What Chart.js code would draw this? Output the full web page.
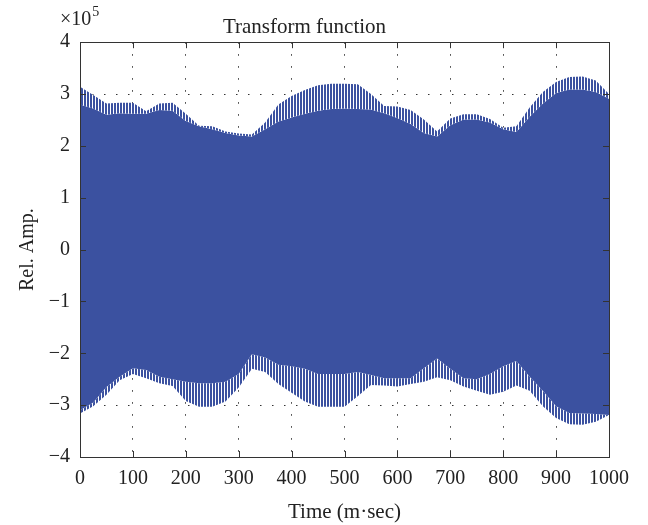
<!DOCTYPE html>
<html>
<head>
<meta charset="utf-8">
<script src="https://cdn.jsdelivr.net/npm/chart.js@4/dist/chart.umd.min.js"></script>
<style>
  html, body { margin: 0; padding: 0; background: #fff; }
  #wrap { width: 648px; height: 525px; }
</style>
</head>
<body>
<div id="wrap"><canvas id="chart" width="648" height="525"></canvas></div>
<script>
// Transform function - envelope of the dense signal
// values in units of 1e5

const times = [0, 25, 50, 75, 100, 125, 150, 175, 200, 225, 250, 275, 300, 325, 350, 375, 400,
  425, 450, 475, 500, 525, 550, 575, 600, 625, 650, 675, 700, 725, 750, 775, 800, 825, 850,
  875, 900, 925, 950, 975, 1000];

// tips of the upper spikes
const upperOuter = [3.14, 2.98, 2.82, 2.83, 2.83, 2.67, 2.82, 2.83, 2.62, 2.39, 2.38, 2.28, 2.24,
  2.22, 2.45, 2.80, 2.96, 3.08, 3.17, 3.20, 3.20, 3.19, 3.00, 2.77, 2.76, 2.69, 2.51, 2.28, 2.53,
  2.61, 2.61, 2.52, 2.35, 2.38, 2.74, 3.04, 3.23, 3.33, 3.34, 3.26, 3.00];

// solid part, upper edge
const upperInner = [2.80, 2.72, 2.60, 2.63, 2.62, 2.62, 2.69, 2.68, 2.48, 2.38, 2.32, 2.25, 2.20,
  2.18, 2.32, 2.47, 2.55, 2.62, 2.68, 2.71, 2.72, 2.71, 2.70, 2.63, 2.54, 2.42, 2.25, 2.18, 2.40,
  2.51, 2.51, 2.45, 2.32, 2.27, 2.56, 2.82, 3.02, 3.09, 3.09, 3.04, 2.91];

// solid part, lower edge
const lowerInner = [-3.10, -2.95, -2.65, -2.45, -2.29, -2.32, -2.45, -2.50, -2.55, -2.58, -2.58,
  -2.55, -2.40, -2.02, -2.08, -2.22, -2.25, -2.30, -2.40, -2.40, -2.40, -2.36, -2.42, -2.48, -2.48,
  -2.48, -2.29, -2.10, -2.30, -2.48, -2.50, -2.40, -2.25, -2.15, -2.45, -2.72, -3.02, -3.15, -3.16,
  -3.17, -3.19];

// tips of the lower spikes
const lowerOuter = [-3.16, -3.02, -2.80, -2.52, -2.40, -2.48, -2.58, -2.63, -2.92, -3.03, -3.03,
  -2.93, -2.66, -2.30, -2.36, -2.59, -2.76, -2.93, -3.03, -3.03, -3.03, -2.83, -2.61, -2.62, -2.64,
  -2.59, -2.55, -2.46, -2.52, -2.64, -2.72, -2.80, -2.74, -2.62, -2.72, -3.02, -3.25, -3.37, -3.38,
  -3.32, -3.19];

const xTicks = [0, 100, 200, 300, 400, 500, 600, 700, 800, 900, 1000];
const yTicks = [-4, -3, -2, -1, 0, 1, 2, 3, 4];

const blue = '#3b51a0';
const ink = '#222';
const serif = "'Liberation Serif', 'DejaVu Serif', serif";

// striped fill for the spiky fringe
function stripes() {
  const c = document.createElement('canvas');
  c.width = 3; c.height = 4;
  const g = c.getContext('2d');
  g.fillStyle = '#ffffff';
  g.fillRect(0, 0, 3, 4);
  g.fillStyle = blue;
  g.fillRect(0, 0, 2, 4);
  return g.createPattern(c, 'repeat');
}

const pts = (vals) => times.map((t, i) => ({ x: t, y: vals[i] }));

const frame = {
  id: 'frame',
  afterDatasetsDraw(chart) {
    const { ctx, chartArea: a, scales } = chart;
    ctx.save();
    ctx.strokeStyle = '#333';
    ctx.lineWidth = 1;
    ctx.beginPath();
    xTicks.forEach(v => {
      const x = Math.round(scales.x.getPixelForValue(v)) + 0.5;
      ctx.moveTo(x, a.bottom); ctx.lineTo(x, a.bottom - 6);
      ctx.moveTo(x, a.top); ctx.lineTo(x, a.top + 6);
    });
    yTicks.forEach(v => {
      const y = Math.round(scales.y.getPixelForValue(v)) + 0.5;
      ctx.moveTo(a.left, y); ctx.lineTo(a.left + 6, y);
      ctx.moveTo(a.right, y); ctx.lineTo(a.right - 6, y);
    });
    ctx.stroke();
    ctx.strokeRect(Math.round(a.left) + 0.5, Math.round(a.top) + 0.5,
      Math.round(a.right - a.left), Math.round(a.bottom - a.top));
    // exponent label
    ctx.fillStyle = ink;
    ctx.textBaseline = 'alphabetic';
    ctx.font = '20px ' + serif;
    ctx.fillText('\u00d710', 60, 25);
    const w = ctx.measureText('\u00d710').width;
    ctx.font = '14px ' + serif;
    ctx.fillText('5', 60 + w + 1, 16);
    ctx.restore();
  }
};

new Chart(document.getElementById('chart'), {
  type: 'line',
  data: {
    datasets: [
      { data: pts(upperOuter), fill: 1, backgroundColor: stripes() },
      { data: pts(upperInner), fill: 2, backgroundColor: blue },
      { data: pts(lowerInner), fill: 3, backgroundColor: stripes() },
      { data: pts(lowerOuter), fill: false }
    ]
  },
  options: {
    responsive: false,
    animation: false,
    events: [],
    elements: {
      line: { borderWidth: 0, tension: 0 },
      point: { radius: 0 }
    },
    layout: { padding: { right: 39 } },
    plugins: {
      legend: { display: false },
      tooltip: { enabled: false },
      title: {
        display: true,
        text: 'Transform function',
        color: ink,
        font: { family: serif, size: 21, weight: 'normal' },
        padding: { top: 15, bottom: 2 }
      }
    },
    scales: {
      x: {
        type: 'linear',
        min: 0, max: 1000,
        afterBuildTicks: (s) => { s.ticks = xTicks.map(v => ({ value: v })); },
        afterFit: (s) => { s.height = 68; },
        ticks: {
          color: ink, padding: 10, maxRotation: 0, font: { family: serif, size: 20 },
          callback: (v) => String(v)
        },
        grid: { color: '#333', lineWidth: 1, drawTicks: false },
        border: { display: false, dash: [1.5, 10.5] },
        title: {
          display: true, text: 'Time (m\u00b7sec)', color: ink,
          font: { family: serif, size: 21 }, padding: { top: 0, bottom: 0 }
        }
      },
      y: {
        min: -4, max: 4,
        afterBuildTicks: (s) => { s.ticks = yTicks.map(v => ({ value: v })); },
        afterFit: (s) => { s.width = 80; },
        ticks: {
          color: ink, padding: 10, font: { family: serif, size: 20 },
          callback: (v) => String(v).replace('-', '\u2212')
        },
        grid: { color: '#333', lineWidth: 1, drawTicks: false },
        border: { display: false, dash: [1.5, 10.5] },
        title: {
          display: true, text: 'Rel. Amp.', color: ink,
          font: { family: serif, size: 20 }, padding: { top: 16, bottom: 0 }
        }
      }
    }
  },
  plugins: [frame]
});
</script>
</body>
</html>
